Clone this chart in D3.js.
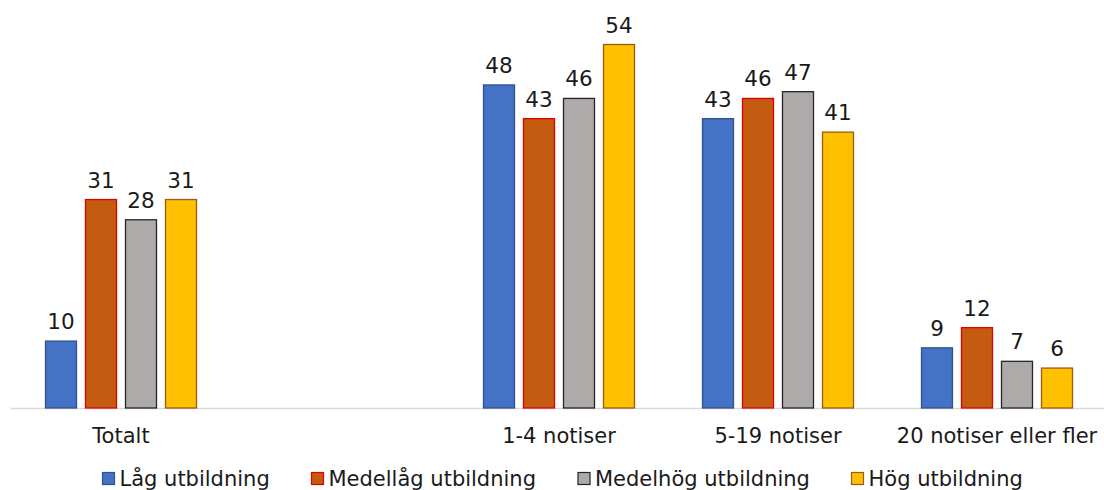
<!DOCTYPE html>
<html>
<head>
<meta charset="utf-8">
<script src="https://cdn.jsdelivr.net/npm/d3@7"></script>
<style>
  html, body { margin: 0; padding: 0; background: #fff; }
  svg { display: block; font-family: "DejaVu Sans", Verdana, sans-serif; }
</style>
</head>
<body>
<svg id="chart" width="1104" height="490"></svg>
<script>
// Categories (the second slot is intentionally empty, leaving a gap after "Totalt")
const categories = ["Totalt", "", "1-4 notiser", "5-19 notiser", "20 notiser eller fler"];
const seriesNames = ["Låg utbildning", "Medellåg utbildning", "Medelhög utbildning", "Hög utbildning"];
const lagUtb      = [10, null, 48, 43, 9];
const medellagUtb = [31, null, 43, 46, 12];
const medelhogUtb = [28, null, 46, 47, 7];
const hogUtb      = [31, null, 54, 41, 6];
const seriesValues = [lagUtb, medellagUtb, medelhogUtb, hogUtb];

const fills   = ["#4472C4", "#C55A11", "#AEAAAA", "#FFC000"];
const strokes = ["#2F528F", "#E00000", "#262626", "#9C5A14"];

const svg = d3.select("#chart");

const x = d3.scaleBand().domain(d3.range(categories.length)).range([11.5, 1106.5]).paddingInner(0).paddingOuter(0);
const groupW = 152;
const xs = d3.scaleBand().domain(d3.range(seriesNames.length)).range([0, groupW]).paddingInner(0.2).paddingOuter(0);
const y = d3.scaleLinear().domain([0, 54]).range([408, 44]);

// baseline
svg.append("line")
  .attr("x1", 11).attr("x2", 1104)
  .attr("y1", y(0) + 0.5).attr("y2", y(0) + 0.5)
  .attr("stroke", "#D9D9D9").attr("stroke-width", 1.5);

// bars with value labels
seriesNames.forEach((name, si) => {
  const data = seriesValues[si].map((v, ci) => ({ v, ci })).filter(d => d.v !== null);
  const g = svg.append("g");
  g.selectAll("rect").data(data).enter().append("rect")
    .attr("x", d => x(d.ci) + (x.bandwidth() - groupW) / 2 + xs(si) + 0.5)
    .attr("y", d => y(d.v) + 0.5)
    .attr("width", xs.bandwidth() - 1)
    .attr("height", d => y(0) - y(d.v) - 0.5)
    .attr("fill", fills[si])
    .attr("stroke", strokes[si])
    .attr("stroke-width", 1.3);
  g.selectAll("text").data(data).enter().append("text")
    .attr("x", d => x(d.ci) + (x.bandwidth() - groupW) / 2 + xs(si) + xs.bandwidth() / 2)
    .attr("y", d => y(d.v) - 11.5)
    .attr("text-anchor", "middle")
    .attr("font-size", 21.5)
    .attr("fill", "#1a1a1a")
    .text(d => d.v);
});

// category labels
svg.append("g").selectAll("text").data(categories).enter().append("text")
  .attr("x", (d, i) => x(i) + x.bandwidth() / 2)
  .attr("y", 443)
  .attr("text-anchor", "middle")
  .attr("font-size", 21)
  .attr("fill", "#1a1a1a")
  .text(d => d);

// legend
const legendX = [102, 311, 577.5, 851];
const leg = svg.append("g");
seriesNames.forEach((name, si) => {
  leg.append("rect")
    .attr("x", legendX[si] + 0.5).attr("y", 472.5)
    .attr("width", 12).attr("height", 12)
    .attr("fill", fills[si]).attr("stroke", strokes[si]).attr("stroke-width", 1.2);
  leg.append("text")
    .attr("x", legendX[si] + 17.5).attr("y", 486)
    .attr("font-size", 21).attr("fill", "#1a1a1a")
    .text(name);
});
</script>
</body>
</html>
